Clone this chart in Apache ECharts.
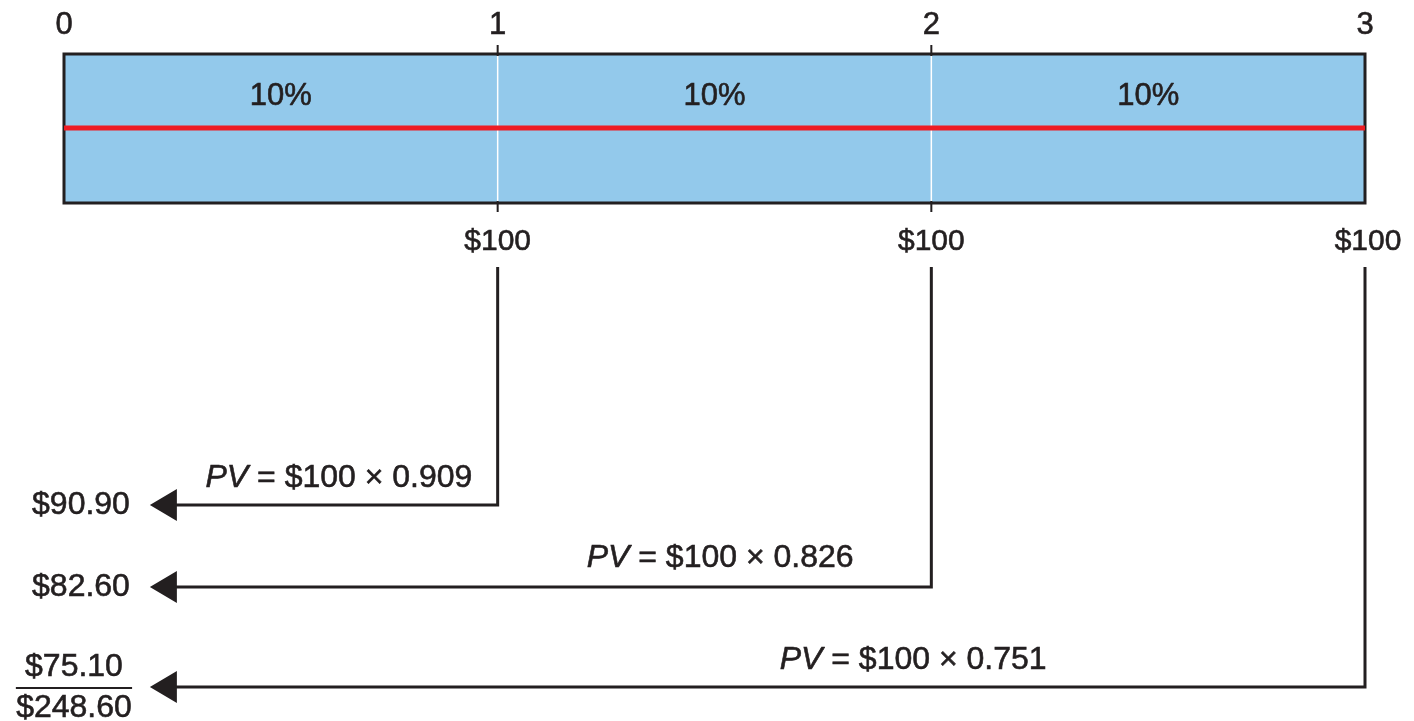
<!DOCTYPE html>
<html>
<head>
<meta charset="utf-8">
<script src="https://cdn.jsdelivr.net/npm/echarts@6/dist/echarts.min.js"></script>
<style>
  html, body { margin: 0; padding: 0; background: #fff; }
  #chart { width: 1414px; height: 721px; }
</style>
</head>
<body>
<div id="chart"></div>
<script>
// ---- data ----
const periods = [0, 1, 2, 3];
const periodLabels = ['0', '1', '2', '3'];
const rateLabels = ['10%', '10%', '10%'];
const cashFlowPeriods = [1, 2, 3];
const cashFlows = [100, 100, 100];
const discountFactors = [0.909, 0.826, 0.751];
const presentValues = [90.90, 82.60, 75.10];
const totalPresentValue = 248.60;

// ---- layout (axis units: x = period, y = vertical layout level) ----
const L = {
  periodLabelY: 25,
  boxTop: 54,
  boxBottom: 203,
  redY: 128,
  rateY: 96,
  cashLabelY: 242,
  dropTop: 267,
  rowY: [505, 587, 687],
  pvTextY: [478, 558, 660],
  pvTextX: [0.634, 1.513, 1.958],
  arrowTipX: 0.198,
  valueRightX: 0.152,
  totalCenterX: 0.023,
  totalLineHalf: 0.134,
  totalTopY: 667,
  totalLineY: 688,
  totalBottomY: 708
};

const INK = '#231F20';
const FONT = '"Liberation Sans", Arial, sans-serif';

function money(v, d) { return '$' + v.toFixed(d); }
function txt(text, x, y, size, align, rich) {
  return { type: 'text', x: x, y: y,
    style: { text: text, fill: INK, font: size + 'px ' + FONT, align: align || 'center',
             verticalAlign: 'middle', stroke: INK, lineWidth: 0.6, rich: rich } };
}

const chart = echarts.init(document.getElementById('chart'));

const option = {
  animation: false,
  backgroundColor: '#fff',
  grid: { left: 64, right: 49, top: 0, bottom: 0 },
  xAxis: { type: 'value', min: 0, max: 3, show: false },
  yAxis: { type: 'value', min: 0, max: 721, inverse: true, show: false },
  series: [
    // box
    {
      type: 'custom', z: 1, clip: false,
      data: [[0, L.boxTop]],
      renderItem: function (params, api) {
        const a = api.coord([periods[0], L.boxTop]);
        const b = api.coord([periods[periods.length - 1], L.boxBottom]);
        return {
          type: 'rect',
          shape: { x: a[0], y: a[1], width: b[0] - a[0], height: b[1] - a[1] },
          style: { fill: '#93C9EB', stroke: INK, lineWidth: 3 }
        };
      }
    },
    // white period dividers and small ticks
    {
      type: 'custom', z: 2, clip: false,
      data: periods.slice(1, -1).map(p => [p, L.boxTop]),
      renderItem: function (params, api) {
        const p = api.value(0);
        const t = api.coord([p, L.boxTop]);
        const b = api.coord([p, L.boxBottom]);
        return {
          type: 'group',
          children: [
            { type: 'line', shape: { x1: t[0], y1: t[1] + 2, x2: b[0], y2: b[1] - 2 },
              style: { stroke: '#ffffff', lineWidth: 1.5 } },
            { type: 'line', shape: { x1: t[0], y1: t[1] - 9, x2: t[0], y2: t[1] + 2 },
              style: { stroke: INK, lineWidth: 2 } },
            { type: 'line', shape: { x1: b[0], y1: b[1] - 2, x2: b[0], y2: b[1] + 9 },
              style: { stroke: INK, lineWidth: 2 } }
          ]
        };
      }
    },
    // red interest line
    {
      type: 'line', z: 3, symbol: 'none', silent: true,
      data: [[periods[0], L.redY], [periods[periods.length - 1], L.redY]],
      lineStyle: { color: '#ED1C24', width: 5 }
    },
    // period labels
    {
      type: 'custom', z: 4, clip: false,
      data: periods.map((p, i) => [p, L.periodLabelY]),
      renderItem: function (params, api) {
        const c = api.coord([api.value(0), api.value(1)]);
        return txt(periodLabels[params.dataIndex], c[0], c[1], 31);
      }
    },
    // rate labels
    {
      type: 'custom', z: 4, clip: false,
      data: rateLabels.map((r, i) => [(periods[i] + periods[i + 1]) / 2, L.rateY]),
      renderItem: function (params, api) {
        const c = api.coord([api.value(0), api.value(1)]);
        return txt(rateLabels[params.dataIndex], c[0], c[1], 31);
      }
    },
    // cash flows with discount arrows
    {
      type: 'custom', z: 4, clip: false,
      data: cashFlowPeriods.map((p, i) => [p, L.rowY[i]]),
      renderItem: function (params, api) {
        const i = params.dataIndex;
        const p = api.value(0);
        const rowY = api.value(1);
        const lbl = api.coord([p, L.cashLabelY]);
        const top = api.coord([p, L.dropTop]);
        const corner = api.coord([p, rowY]);
        const tip = api.coord([L.arrowTipX, rowY]);
        const head = 27, half = 16;
        return {
          type: 'group',
          children: [
            txt(money(cashFlows[i], 0), lbl[0] + (i === cashFlows.length - 1 ? 3 : 0), lbl[1], 30),
            { type: 'polyline',
              shape: { points: [[top[0], top[1]], [corner[0], corner[1]], [tip[0] + head - 2, tip[1]]] },
              style: { stroke: INK, lineWidth: 3, fill: null } },
            { type: 'polygon',
              shape: { points: [[tip[0], tip[1]], [tip[0] + head, tip[1] - half], [tip[0] + head, tip[1] + half]] },
              style: { fill: INK } }
          ]
        };
      }
    },
    // PV formulas
    {
      type: 'custom', z: 4, clip: false,
      data: discountFactors.map((d, i) => [L.pvTextX[i], L.pvTextY[i]]),
      renderItem: function (params, api) {
        const i = params.dataIndex;
        const c = api.coord([api.value(0), api.value(1)]);
        return txt('{i|PV} = ' + money(cashFlows[i], 0) + ' \u00d7 ' + discountFactors[i].toFixed(3),
          c[0], c[1], 32,
          'center', { i: { fontStyle: 'italic', fontSize: 32, fontFamily: FONT, fill: INK, stroke: INK, lineWidth: 0.6 } });
      }
    },
    // present values
    {
      type: 'custom', z: 4, clip: false,
      data: presentValues.map((v, i) => [i < presentValues.length - 1 ? L.valueRightX : L.totalCenterX,
                                          i < presentValues.length - 1 ? L.rowY[i] : L.totalTopY]),
      renderItem: function (params, api) {
        const i = params.dataIndex;
        const c = api.coord([api.value(0), api.value(1)]);
        const last = i === presentValues.length - 1;
        return txt(money(presentValues[i], 2), c[0], c[1], 32, last ? 'center' : 'right');
      }
    },
    // total
    {
      type: 'custom', z: 4, clip: false,
      data: [[L.totalCenterX, L.totalBottomY]],
      renderItem: function (params, api) {
        const c = api.coord([api.value(0), api.value(1)]);
        const a = api.coord([L.totalCenterX - L.totalLineHalf, L.totalLineY]);
        const b = api.coord([L.totalCenterX + L.totalLineHalf, L.totalLineY]);
        return {
          type: 'group',
          children: [
            { type: 'line', shape: { x1: a[0], y1: a[1], x2: b[0], y2: b[1] },
              style: { stroke: INK, lineWidth: 2 } },
            txt(money(totalPresentValue, 2), c[0], c[1], 32)
          ]
        };
      }
    }
  ]
};

chart.setOption(option);
</script>
</body>
</html>
